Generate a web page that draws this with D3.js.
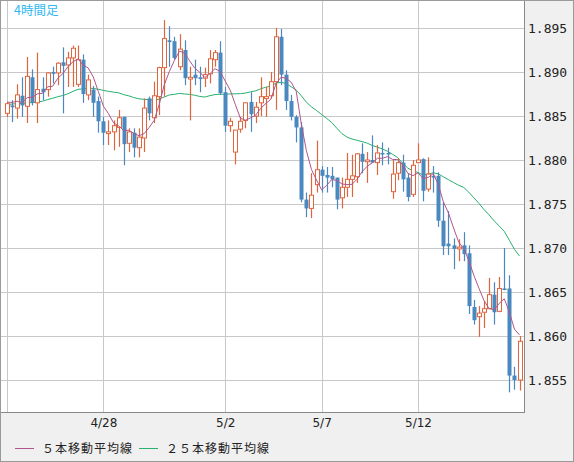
<!DOCTYPE html>
<html><head><meta charset="utf-8">
<script src="https://cdn.jsdelivr.net/npm/d3@7"></script>
<style>body{margin:0;background:#f0f0f0}svg{display:block}</style>
</head><body>
<svg id="c" width="574" height="462"></svg>
<script>
// [open, high, low, close] per 4h candle
const opens  = [1.8853,1.8862,1.8859,1.8873,1.8861,1.8894,1.8865,1.8881,1.8880,1.8900,1.8899,1.8911,1.8908,1.8916,1.8886,1.8914,1.8874,1.8880,1.8867,1.8844,1.8830,1.8832,1.8837,1.8849,1.8819,1.8831,1.8814,1.8825,1.8870,1.8848,1.8872,1.8905,1.8936,1.8935,1.8906,1.8925,1.8892,1.8897,1.8894,1.8893,1.8898,1.8914,1.8922,1.8877,1.8839,1.8809,1.8835,1.8845,1.8866,1.8850,1.8865,1.8870,1.8873,1.8889,1.8940,1.8897,1.8867,1.8849,1.8837,1.8755,1.8745,1.8772,1.8789,1.8783,1.8782,1.8780,1.8757,1.8769,1.8778,1.8781,1.8807,1.8798,1.8800,1.8797,1.8808,1.8808,1.8764,1.8785,1.8797,1.8780,1.8761,1.8797,1.8801,1.8767,1.8782,1.8782,1.8731,1.8705,1.8703,1.8699,1.8703,1.8694,1.8633,1.8622,1.8627,1.8631,1.8647,1.8628,1.8654,1.8654,1.8555,1.8550];
const highs  = [1.8866,1.8868,1.8886,1.8894,1.8917,1.8903,1.8922,1.8894,1.8900,1.8906,1.8911,1.8928,1.8923,1.8930,1.8930,1.8920,1.8897,1.8884,1.8872,1.8849,1.8845,1.8845,1.8857,1.8849,1.8836,1.8836,1.8836,1.8870,1.8872,1.8889,1.8906,1.8959,1.8952,1.8940,1.8943,1.8936,1.8906,1.8914,1.8906,1.8905,1.8925,1.8925,1.8935,1.8883,1.8848,1.8834,1.8849,1.8865,1.8877,1.8866,1.8894,1.8883,1.8900,1.8950,1.8949,1.8902,1.8874,1.8851,1.8843,1.8763,1.8785,1.8822,1.8793,1.8792,1.8792,1.8780,1.8780,1.8808,1.8806,1.8808,1.8819,1.8809,1.8828,1.8817,1.8820,1.8814,1.8800,1.8802,1.8806,1.8785,1.8800,1.8819,1.8802,1.8803,1.8793,1.8786,1.8752,1.8742,1.8711,1.8710,1.8718,1.8703,1.8641,1.8634,1.8640,1.8666,1.8661,1.8667,1.8700,1.8669,1.8565,1.8600];
const lows   = [1.8849,1.8843,1.8847,1.8849,1.8842,1.8862,1.8842,1.8868,1.8872,1.8887,1.8885,1.8853,1.8883,1.8883,1.8883,1.8865,1.8868,1.8849,1.8831,1.8817,1.8817,1.8811,1.8815,1.8794,1.8809,1.8803,1.8803,1.8809,1.8845,1.8842,1.8851,1.8872,1.8906,1.8914,1.8902,1.8885,1.8845,1.8885,1.8877,1.8883,1.8887,1.8906,1.8874,1.8832,1.8832,1.8795,1.8831,1.8836,1.8832,1.8842,1.8850,1.8849,1.8870,1.8857,1.8885,1.8857,1.8845,1.8820,1.8752,1.8735,1.8734,1.8763,1.8763,1.8763,1.8769,1.8744,1.8745,1.8758,1.8758,1.8774,1.8785,1.8774,1.8797,1.8783,1.8794,1.8795,1.8756,1.8777,1.8764,1.8753,1.8758,1.8797,1.8753,1.8764,1.8763,1.8724,1.8692,1.8692,1.8676,1.8685,1.8685,1.8625,1.8613,1.8599,1.8609,1.8631,1.8613,1.8627,1.8652,1.8536,1.8539,1.8538];
const closes = [1.8864,1.8860,1.8874,1.8862,1.8895,1.8865,1.8880,1.8877,1.8899,1.8898,1.8910,1.8907,1.8916,1.8927,1.8914,1.8875,1.8891,1.8865,1.8844,1.8831,1.8832,1.8839,1.8848,1.8818,1.8832,1.8814,1.8826,1.8859,1.8853,1.8873,1.8905,1.8938,1.8934,1.8916,1.8926,1.8893,1.8894,1.8893,1.8892,1.8897,1.8915,1.8922,1.8876,1.8839,1.8844,1.8834,1.8844,1.8865,1.8852,1.8860,1.8872,1.8872,1.8889,1.8940,1.8897,1.8867,1.8849,1.8837,1.8755,1.8745,1.8760,1.8789,1.8782,1.8780,1.8778,1.8755,1.8769,1.8778,1.8782,1.8807,1.8798,1.8800,1.8797,1.8808,1.8807,1.8807,1.8784,1.8797,1.8778,1.8758,1.8794,1.8800,1.8765,1.8784,1.8780,1.8731,1.8702,1.8702,1.8699,1.8701,1.8693,1.8634,1.8618,1.8626,1.8631,1.8647,1.8627,1.8654,1.8653,1.8555,1.8550,1.8594];
// closes before the visible window (for moving averages)
const priorCloses = [1.8850,1.8858,1.8862,1.8870,1.8866,1.8860,1.8855,1.8852,1.8860,1.8868,1.8872,1.8866,1.8859,1.8856,1.8862,1.8870,1.8874,1.8868,1.8863,1.8858,1.8862,1.8867,1.8870,1.8866];
const dateTicks = [{i:19,label:"4/28"},{i:43,label:"5/2"},{i:62,label:"5/7"},{i:81,label:"5/12"}];
const gridIdx = [0,19,43,62,81];
const priceTicks = [1.855,1.860,1.865,1.870,1.875,1.880,1.885,1.890,1.895];
const legendNames = ["５本移動平均線","２５本移動平均線"];
const title = "4時間足";

const svg = d3.select("#c");
const W=574,H=462, L=1, R=524, T=1, B=412;
svg.append("rect").attr("width",W).attr("height",H).attr("fill","#f0f0f0");
svg.append("rect").attr("x",L).attr("y",T).attr("width",R-L).attr("height",B-T).attr("fill","#fff");

const n = closes.length;
const x = d3.scaleLinear().domain([0,n-1]).range([7,519.5]);
const y = d3.scaleLinear().domain([1.855,1.895]).range([380,28]);

const g = svg.append("g");
g.selectAll(".hg").data(priceTicks).join("line")
 .attr("x1",L).attr("x2",R).attr("y1",d=>Math.round(y(d))+0.5).attr("y2",d=>Math.round(y(d))+0.5)
 .attr("stroke","#c8c8c8");
g.selectAll(".vg").data(gridIdx).join("line")
 .attr("x1",d=>Math.round(x(d))+0.5).attr("x2",d=>Math.round(x(d))+0.5).attr("y1",T).attr("y2",B)
 .attr("stroke","#c8c8c8");

const all = priorCloses.concat(closes);
const off = priorCloses.length;
function sma(k){ return closes.map((c,i)=>d3.mean(all.slice(off+i-k+1, off+i+1))); }
const ma5 = sma(5), ma25 = sma(25);
const line = d3.line().x((d,i)=>x(i)).y(d=>y(d));
g.append("path").attr("d",line(ma25)).attr("fill","none").attr("stroke","#27b06e").attr("stroke-width",1);

const up="#e0643c", dn="#4a88c0";
const data = closes.map((c,i)=>({i,o:opens[i],h:highs[i],l:lows[i],c}));
const cg = g.selectAll(".cd").data(data).join("g");
cg.append("line").attr("x1",d=>Math.round(x(d.i))+0.5).attr("x2",d=>Math.round(x(d.i))+0.5)
  .attr("y1",d=>y(d.h)).attr("y2",d=>y(d.l)).attr("stroke",d=>d.c>=d.o?up:dn).attr("stroke-width",1.2);
cg.append("rect")
  .attr("x",d=>Math.round(x(d.i))-1.5).attr("width",4)
  .attr("y",d=>y(Math.max(d.o,d.c))).attr("height",d=>Math.max(1.5,Math.abs(y(d.o)-y(d.c))))
  .attr("fill",d=>d.c>=d.o?"#fff":dn).attr("stroke",d=>d.c>=d.o?up:"none").attr("stroke-width",1);

g.append("path").attr("d",line(ma5)).attr("fill","none").attr("stroke","#b0568a").attr("stroke-width",1);

svg.append("rect").attr("x",R).attr("y",0).attr("width",W-R).attr("height",H).attr("fill","#f0f0f0");
svg.append("rect").attr("x",0).attr("y",B).attr("width",W).attr("height",H-B).attr("fill","#f0f0f0");
svg.append("rect").attr("x",L-0.5).attr("y",T-0.5).attr("width",R-L+1).attr("height",B-T+1).attr("fill","none").attr("stroke","#8a8a8a");
svg.append("rect").attr("x",0.5).attr("y",0.5).attr("width",W-1).attr("height",H-1).attr("fill","none").attr("stroke","#9a9a9a");

const yAxis = d3.axisRight(y).tickValues(priceTicks).tickFormat(d3.format(".3f")).tickSize(0).tickPadding(4);
svg.append("g").attr("transform",`translate(${R},0)`).call(yAxis)
  .call(a=>a.select(".domain").remove())
  .selectAll("text").attr("font-family","DejaVu Sans Mono").attr("font-size",13).attr("fill","#222");
const xAxis = d3.axisBottom(x).tickValues(dateTicks.map(d=>d.i)).tickFormat(v=>dateTicks.find(d=>d.i===v).label).tickSize(0).tickPadding(6);
svg.append("g").attr("transform",`translate(0,${B})`).call(xAxis)
  .call(a=>a.select(".domain").remove())
  .selectAll("text").attr("font-family","DejaVu Sans").attr("font-size",12).attr("fill","#222");

svg.append("text").attr("x",14).attr("y",15).text(title).attr("font-family","Noto Sans CJK JP").attr("font-size",12.5).attr("fill","#33b8ee");

const lg = [{x:15,c:"#b0568a"},{x:139,c:"#27b06e"}];
lg.forEach((d,k)=>{
  svg.append("line").attr("x1",d.x).attr("x2",d.x+19).attr("y1",448.5).attr("y2",448.5).attr("stroke",d.c);
  svg.append("text").attr("x",d.x+27).attr("y",453).text(legendNames[k]).attr("font-family","Noto Sans CJK JP").attr("font-size",12).attr("letter-spacing",1).attr("fill","#222");
});
</script></body></html>
